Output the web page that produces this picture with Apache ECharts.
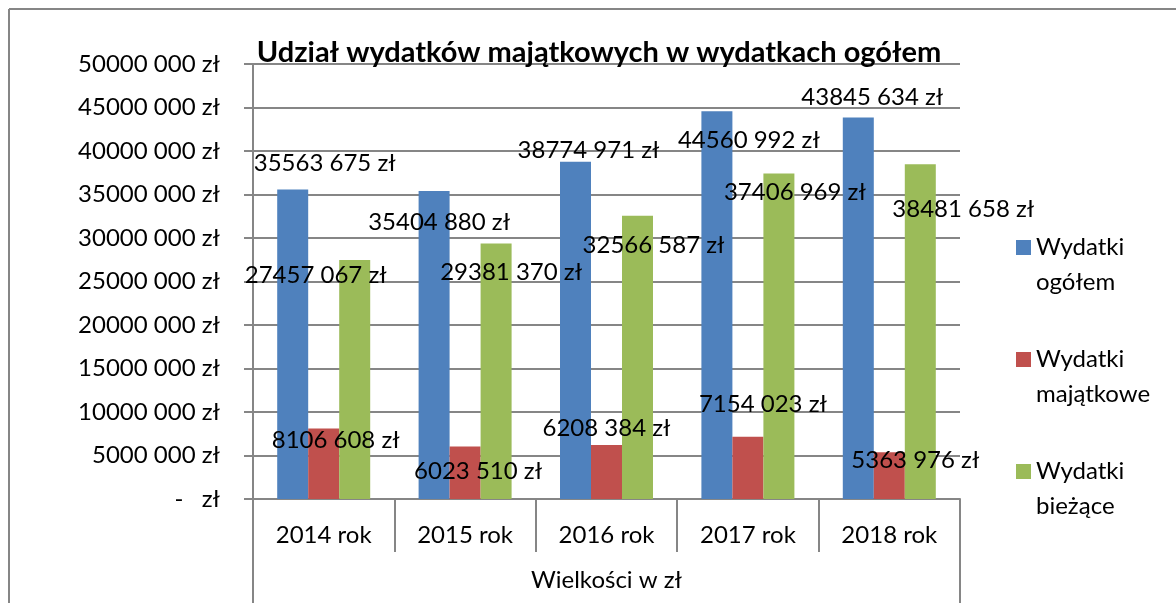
<!DOCTYPE html>
<html>
<head>
<meta charset="utf-8">
<script src="https://cdn.jsdelivr.net/npm/echarts@6/dist/echarts.min.js"></script>
<style>
  html, body { margin: 0; padding: 0; background: #fff; }
  #chart { width: 1176px; height: 603px; }
</style>
</head>
<body>
<div id="chart"></div>
<script>
// data
var years = ["2014 rok", "2015 rok", "2016 rok", "2017 rok", "2018 rok"];
var groupName = ["Wielkości w zł"];
var seriesNames = ["Wydatki ogółem", "Wydatki majątkowe", "Wydatki bieżące"];
var ogolem = [35563675, 35404880, 38774971, 44560992, 43845634];
var majatkowe = [8106608, 6023510, 6208384, 7154023, 5363976];
var biezace = [27457067, 29381370, 32566587, 37406969, 38481658];

// manual label placement (like the hand-moved labels in the source)
var shiftOgolem = [[32, -12], [5, 45], [13, 3], [32, 43], [14, -6]];
var shiftMajatkowe = [[12, 26], [13, 39], [0, -3], [15, -18], [26, 22]];
var shiftBiezace = [[-39, 29], [15, 43], [16, 44], [16, 33], [43, 59]];

var FONT = "Lato";
var FS = 24;
var GRAY = "#868686";

function zl(v) {
  if (v === 0) return "-   zł";
  var t = Math.floor(v / 1000);
  var r = String(v % 1000);
  while (r.length < 3) r = "0" + r;
  return t + " " + r + " zł";
}

function withShift(values, shifts) {
  return values.map(function (v, i) {
    return { value: v, label: { offset: shifts[i] } };
  });
}

var myChart = echarts.init(document.getElementById("chart"));

function barSeries(name, color, values, shifts) {
  return {
    name: name,
    type: "bar",
    barWidth: 31,
    barGap: "0%",
    itemStyle: { color: color },
    label: {
      show: true,
      position: "top",
      distance: 0,
      fontFamily: FONT,
      fontSize: FS,
      lineHeight: 28,
      color: "#000",
      formatter: function (p) { return zl(p.value); }
    },
    data: withShift(values, shifts)
  };
}

myChart.setOption({
  animation: false,
  textStyle: { fontFamily: FONT },
  title: {
    text: "Udział wydatków majątkowych w wydatkach ogółem",
    left: 594,
    textAlign: "center",
    top: 33,
    textStyle: { fontFamily: FONT, fontSize: 29, fontWeight: "bold", color: "#000" }
  },
  legend: {
    orient: "vertical",
    left: 1011,
    top: 190,
    itemWidth: 15,
    itemHeight: 15,
    itemGap: 7,
    icon: "rect",
    textStyle: { fontFamily: FONT, fontSize: FS, lineHeight: 35, color: "#000" },
    formatter: function (name) {
      var parts = name.split(" ");
      return " \n" + parts[0] + "\n" + parts[1];
    },
    data: seriesNames
  },
  grid: { left: 253, right: 216, top: 64, bottom: 104 },
  xAxis: [
    {
      type: "category",
      data: years,
      axisLine: { lineStyle: { color: GRAY, width: 2 } },
      axisTick: { show: true, length: 53, alignWithLabel: false, lineStyle: { color: GRAY, width: 2 } },
      axisLabel: { fontFamily: FONT, fontSize: FS, color: "#000", margin: 24 }
    },
    {
      type: "category",
      position: "bottom",
      offset: 53,
      data: groupName,
      axisLine: { show: false },
      axisTick: { show: true, length: 51, alignWithLabel: false, lineStyle: { color: GRAY, width: 2 } },
      axisLabel: { fontFamily: FONT, fontSize: FS, color: "#000", margin: 16 }
    }
  ],
  yAxis: {
    type: "value",
    min: 0,
    max: 50000000,
    interval: 5000000,
    axisLine: { show: true, lineStyle: { color: GRAY, width: 2 } },
    axisTick: { show: true, length: 9, lineStyle: { color: GRAY, width: 2 } },
    splitLine: { lineStyle: { color: GRAY, width: 2 } },
    axisLabel: {
      fontFamily: FONT,
      fontSize: FS,
      color: "#000",
      margin: 33,
      formatter: zl
    }
  },
  graphic: [
    { type: "line", shape: { x1: 9, y1: 9, x2: 1176, y2: 9 }, style: { stroke: GRAY, lineWidth: 2 } },
    { type: "line", shape: { x1: 9, y1: 9, x2: 9, y2: 603 }, style: { stroke: GRAY, lineWidth: 2 } }
  ],
  series: [
    barSeries(seriesNames[0], "#4F81BD", ogolem, shiftOgolem),
    barSeries(seriesNames[1], "#C0504D", majatkowe, shiftMajatkowe),
    barSeries(seriesNames[2], "#9BBB59", biezace, shiftBiezace)
  ]
});
</script>
</body>
</html>
